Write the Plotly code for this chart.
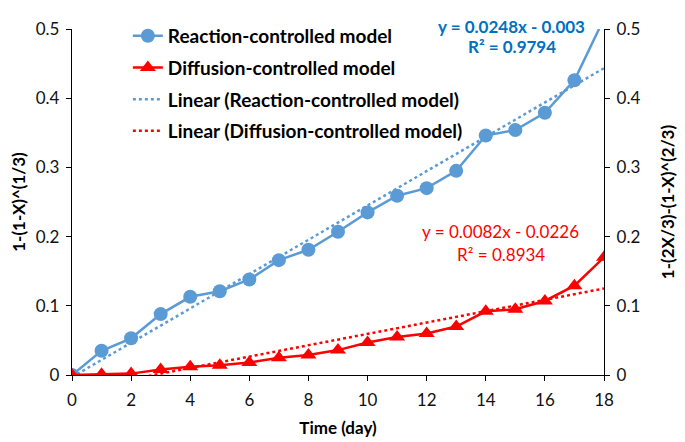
import plotly.graph_objects as go
import numpy as np

days = list(range(0, 19))
reaction = [0, 0.035, 0.053, 0.088, 0.113, 0.121, 0.138, 0.166, 0.181, 0.207,
            0.235, 0.259, 0.270, 0.295, 0.346, 0.354, 0.379, 0.426, 0.515]
diffusion = [0, 0.001, 0.002, 0.008, 0.012, 0.014, 0.018, 0.025, 0.029, 0.036,
             0.047, 0.055, 0.060, 0.070, 0.092, 0.095, 0.107, 0.129, 0.170]
reaction_fit = (0.0248, -0.003)
diffusion_fit = (0.0082, -0.0226)
reaction_eq = ["y = 0.0248x - 0.003", "R² = 0.9794"]
diffusion_eq = ["y = 0.0082x - 0.0226", "R² = 0.8934"]
y_ticks = [0, 0.1, 0.2, 0.3, 0.4, 0.5]
y_ticktext = ["0", "0.1", "0.2", "0.3", "0.4", "0.5"]
x_ticks = list(range(0, 19, 2))

BLUE = "#5B9BD5"
BLUE_TXT = "#0070C0"
RED = "#FF0000"
FONT = "Lato"

xd = np.array(days, dtype=float)
fig = go.Figure()
fig.add_trace(go.Scatter(x=days, y=reaction, name="Reaction-controlled model",
                         mode="lines+markers", line=dict(color=BLUE, width=2.5),
                         marker=dict(symbol="circle", size=14, color=BLUE),
                         legendgroup="a"))
fig.add_trace(go.Scatter(x=days, y=diffusion, name="Diffusion-controlled model",
                         mode="lines+markers", line=dict(color=RED, width=2.5),
                         marker=dict(symbol="triangle-up", size=14, color=RED),
                         yaxis="y2", legendgroup="b"))
fig.add_trace(go.Scatter(x=days, y=reaction_fit[0] * xd + reaction_fit[1],
                         name="Linear (Reaction-controlled model)", mode="lines",
                         line=dict(color=BLUE, width=2.5, dash="dot"), legendgroup="c"))
fig.add_trace(go.Scatter(x=days, y=diffusion_fit[0] * xd + diffusion_fit[1],
                         name="Linear (Diffusion-controlled model)", mode="lines",
                         line=dict(color=RED, width=2.5, dash="dot"), yaxis="y2",
                         legendgroup="d"))

axis_common = dict(showgrid=False, zeroline=False, showline=True, linecolor="#000000",
                   linewidth=1.3, ticks="outside", ticklen=5, tickcolor="#000000",
                   automargin=False,
                   tickfont=dict(family=FONT, size=17, color="#111111"))
title_font = dict(family=FONT, size=17, color="#000000", weight="bold")

# page body has an 8px default margin, so the figure is 8px smaller each way
fig.update_layout(
    width=677, height=434,
    margin=dict(l=64, r=81, t=9, b=67),
    paper_bgcolor="white", plot_bgcolor="white",
    font=dict(family=FONT, color="#000000"),
    xaxis=dict(range=[0, 18], tickvals=x_ticks,
               title=dict(text="Time (day)", font=title_font, standoff=13),
               ticklabelstandoff=4, **axis_common),
    yaxis=dict(range=[0, 0.5], tickvals=y_ticks, ticktext=y_ticktext,
               title=dict(text="1-(1-X)^(1/3)", font=title_font, standoff=15),
               ticklabelstandoff=3, **axis_common),
    yaxis2=dict(range=[0, 0.5], tickvals=y_ticks, ticktext=y_ticktext,
                overlaying="y", side="right",
                title=dict(text="1-(2X/3)-(1-X)^(2/3)", font=title_font, standoff=22),
                ticklabelstandoff=3, **axis_common),
    legend=dict(x=0.105, y=1.035, xanchor="left", yanchor="top", bgcolor="rgba(0,0,0,0)",
                font=dict(family=FONT, size=19, color="#000000", weight="bold"),
                tracegroupgap=4, traceorder="grouped"),
    showlegend=True,
)

for txt, yp in zip(reaction_eq, [1.006, 0.948]):
    fig.add_annotation(x=14.88, y=yp, xref="x", yref="paper", text=txt, showarrow=False,
                       font=dict(family=FONT, size=17, color=BLUE_TXT, weight="bold"),
                       align="center", yanchor="middle")
for txt, yv in zip(diffusion_eq, [0.2067, 0.1746]):
    fig.add_annotation(x=14.5, y=yv, xref="x", yref="y2", text=txt, showarrow=False,
                       font=dict(family=FONT, size=17, color=RED),
                       align="center", yanchor="middle")

fig.write_html("out.html")
